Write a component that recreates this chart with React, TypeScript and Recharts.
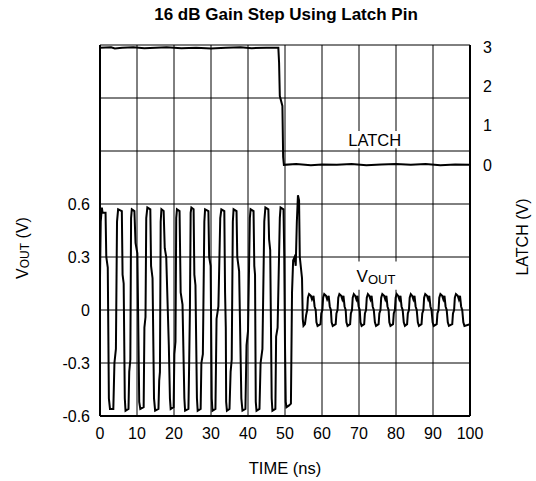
import React from "react";
import {
  LineChart,
  Line,
  XAxis,
  YAxis,
  CartesianGrid,
  ReferenceArea,
} from "recharts";

// [time ns, volts]
const voutBeforeStep: [number, number][] = [
  [0, 0.18], [0.2, 0.5], [0.5, 0.58], [0.7, 0.55], [1.5, 0.55],
  [1.7, 0.3], [2.1, 0.24], [2.4, -0.5], [2.7, -0.56], [3.6, -0.56],
  [3.9, -0.3], [4.3, -0.22], [4.6, 0.5], [4.9, 0.57], [5.9, 0.56],
  [6.1, 0.2], [6.4, 0.15], [6.7, -0.5], [6.9, -0.57], [7.7, -0.56],
  [7.9, -0.35], [8.2, -0.28], [8.4, 0.52], [8.6, 0.57], [9.3, 0.56],
  [9.6, 0.38], [10.1, 0.32], [10.6, -0.52], [10.9, -0.56], [11.8, -0.55],
  [12.0, -0.1], [12.3, -0.04], [12.5, 0.52], [12.8, 0.58], [13.6, 0.57],
  [13.8, 0.25], [14.2, 0.18], [14.6, -0.5], [14.9, -0.57], [15.8, -0.56],
  [16.0, -0.4], [16.2, -0.35], [16.4, 0.5], [16.6, 0.57], [17.2, 0.56],
  [17.5, 0.35], [17.9, 0.3], [18.6, -0.2], [18.9, -0.5], [19.1, -0.56], [19.9, -0.55],
  [20.1, -0.25], [20.4, -0.18], [20.6, 0.52], [20.8, 0.57], [21.5, 0.56],
  [21.8, 0.1], [22.3, 0.03], [22.8, -0.5], [23.0, -0.57], [23.9, -0.56],
  [24.1, -0.3], [24.3, 0.0], [24.5, 0.55], [24.7, 0.58], [25.3, 0.57],
  [25.5, 0.2], [25.8, 0.14], [26.2, -0.5], [26.4, -0.57], [27.2, -0.56],
  [27.4, -0.3], [27.8, -0.25], [28.2, 0.5], [28.4, 0.57], [29.3, 0.56],
  [29.5, 0.3], [29.9, 0.25], [30.2, -0.5], [30.4, -0.57], [31.2, -0.56],
  [31.5, -0.05], [32.0, 0.02], [32.5, 0.52], [32.8, 0.57], [33.6, 0.56],
  [33.8, 0.1], [34.0, -0.1], [34.1, -0.52], [34.3, -0.57], [35.0, -0.56],
  [35.3, -0.35], [35.6, -0.28], [35.9, 0.5], [36.1, 0.57], [36.9, 0.56],
  [37.1, 0.3], [37.6, 0.22], [38.2, -0.5], [38.5, -0.57], [39.3, -0.56],
  [39.6, -0.2], [40.0, -0.12], [40.5, 0.52], [40.7, 0.57], [41.5, 0.56],
  [41.7, 0.25], [41.9, 0.2], [42.1, -0.52], [42.3, -0.57], [43.1, -0.56],
  [43.4, -0.3], [43.9, -0.22], [44.4, 0.5], [44.7, 0.58], [45.5, 0.57],
  [45.7, 0.4], [46.0, 0.34], [46.4, -0.5], [46.6, -0.57], [47.4, -0.56],
  [47.6, -0.15], [48.0, -0.1], [48.6, 0.52], [48.8, 0.58], [49.6, 0.57],
  [49.8, 0.3], [50.0, -0.2], [50.2, -0.52], [50.4, -0.55], [51.1, -0.54],
];

const voutTransient: [number, number][] = [
  [51.6, -0.53], [51.9, 0.1], [52.2, 0.28], [52.6, 0.3], [52.9, 0.25],
  [53.2, 0.5], [53.5, 0.65], [53.8, 0.62], [54.0, 0.3], [54.6, 0.18],
  [54.8, -0.05], [55.0, -0.09], [55.4, -0.08],
];

const voutAfterStep: [number, number][] = [
  [55.7, -0.03], [56.0, 0.0], [56.2, 0.07], [56.5, 0.09], [57.0, 0.08], [57.3, 0.06], [57.7, 0.08], [58.0, 0.02], [58.3, 0.0], [58.5, -0.07], [58.8, -0.09], [59.6, -0.08],
  [59.8, -0.02], [60.1, 0.0], [60.3, 0.07], [60.6, 0.09], [61.1, 0.08], [61.4, 0.06], [61.8, 0.08], [62.1, 0.02], [62.4, 0.0], [62.6, -0.07], [62.9, -0.09], [63.7, -0.08],
  [63.9, -0.02], [64.2, 0.0], [64.4, 0.07], [64.7, 0.09], [65.2, 0.08], [65.5, 0.06], [65.8, 0.08], [66.1, 0.02], [66.4, 0.0], [66.6, -0.07], [66.9, -0.09], [67.6, -0.08],
  [67.8, -0.02], [68.1, 0.0], [68.3, 0.07], [68.6, 0.09], [69.0, 0.08], [69.3, 0.06], [69.6, 0.08], [69.9, 0.02], [70.2, 0.0], [70.4, -0.07], [70.7, -0.09], [71.4, -0.08],
  [71.6, -0.02], [71.9, 0.0], [72.1, 0.07], [72.4, 0.09], [72.8, 0.08], [73.1, 0.06], [73.4, 0.08], [73.7, 0.02], [74.0, 0.0], [74.3, -0.07], [74.6, -0.09], [75.3, -0.08],
  [75.5, -0.02], [75.8, 0.0], [76.0, 0.07], [76.3, 0.09], [76.8, 0.08], [77.1, 0.06], [77.4, 0.08], [77.7, 0.02], [78.0, 0.0], [78.2, -0.07], [78.5, -0.09], [79.2, -0.08],
  [79.4, -0.02], [79.7, 0.0], [79.9, 0.07], [80.2, 0.09], [80.6, 0.08], [80.9, 0.06], [81.2, 0.08], [81.5, 0.02], [81.8, 0.0], [82.1, -0.07], [82.4, -0.09], [83.0, -0.08],
  [83.2, -0.02], [83.5, 0.0], [83.7, 0.07], [84.0, 0.09], [84.4, 0.08], [84.7, 0.06], [85.0, 0.08], [85.3, 0.02], [85.6, 0.0], [85.9, -0.07], [86.2, -0.09], [86.9, -0.08],
  [87.1, -0.02], [87.4, 0.0], [87.6, 0.07], [87.9, 0.09], [88.4, 0.08], [88.7, 0.06], [89.0, 0.08], [89.3, 0.02], [89.6, 0.0], [89.9, -0.07], [90.2, -0.09], [91.0, -0.08],
  [91.2, -0.02], [91.5, 0.0], [91.7, 0.07], [92.0, 0.09], [92.5, 0.08], [92.8, 0.06], [93.1, 0.08], [93.4, 0.02], [93.7, 0.0], [94.0, -0.07], [94.3, -0.09], [95.2, -0.08],
  [95.4, -0.02], [95.7, 0.0], [95.9, 0.07], [96.2, 0.09], [96.7, 0.08], [97.0, 0.06], [97.3, 0.08], [97.6, 0.02], [97.9, 0.0], [98.2, -0.07], [98.5, -0.09], [100, -0.08],
];

const latchTrace: [number, number][] = [
  [0, 2.98], [3, 2.99], [4, 2.96], [6, 2.98], [9, 2.99], [12, 2.97], [15, 2.98],
  [18, 2.99], [22, 2.97], [26, 2.98], [30, 2.96], [34, 2.98], [38, 2.99], [41, 2.97],
  [45, 2.98], [48.2, 2.98], [48.4, 2.6], [48.6, 1.75], [49.3, 1.5], [49.5, 0.2],
  [49.7, 0.0], [53, 0.02], [57, -0.01], [60, 0.01], [64, 0.0], [68, 0.02], [72, -0.01],
  [76, 0.01], [80, 0.02], [84, 0.0], [88, 0.02], [92, -0.01], [96, 0.01], [100, 0.0],
];

const timeTicks = [0, 10, 20, 30, 40, 50, 60, 70, 80, 90, 100];
const voutTicks = [-0.6, -0.3, 0, 0.3, 0.6, 0.9, 1.2, 1.5];
const voutLabelled = [-0.6, -0.3, 0, 0.3, 0.6];
const latchTicks = [0, 1, 2, 3];

const toPoints = (arr: [number, number][]) => arr.map(([t, v]) => ({ t, v }));
const voutData = toPoints([...voutBeforeStep, ...voutTransient, ...voutAfterStep]);
const latchData = toPoints(latchTrace);

const FONT = "'Liberation Sans', Arial, sans-serif";
const tickStyle = { fill: "#000", fontSize: 16, fontFamily: FONT };

const fmtVout = (v: number) => {
  if (!voutLabelled.some((x) => Math.abs(x - v) < 1e-6)) return "";
  if (Math.abs(v) < 1e-6) return "0";
  return v.toFixed(1);
};

export default function App() {
  return (
    <div style={{ position: "absolute", left: 0, top: 0, width: 536, height: 481, background: "#fff" }}>
      <div
        style={{
          position: "absolute",
          left: 0,
          top: 5,
          width: 572,
          textAlign: "center",
          fontFamily: FONT,
          fontWeight: "bold",
          fontSize: 17,
        }}
      >
        16 dB Gain Step Using Latch Pin
      </div>
      <LineChart width={536} height={481} margin={{ top: 45, right: 36, bottom: 35, left: 60 }}>
        <CartesianGrid yAxisId="v" stroke="#000" strokeWidth={1} fill="none" />
        <XAxis
          type="number"
          dataKey="t"
          domain={[0, 100]}
          ticks={timeTicks}
          height={30}
          tickSize={0}
          tickMargin={12}
          tick={tickStyle}
          axisLine={{ stroke: "#000", strokeWidth: 2 }}
          allowDataOverflow
          label={() => (
            <text x={285} y={468} textAnchor="middle" dominantBaseline="central" fontSize={16.5} fontFamily={FONT} fill="#000">
              TIME (ns)
            </text>
          )}
        />
        <YAxis
          yAxisId="v"
          orientation="left"
          type="number"
          domain={[-0.6, 1.5]}
          ticks={voutTicks}
          tickFormatter={fmtVout}
          width={40}
          tickSize={0}
          tickMargin={10}
          tick={tickStyle}
          axisLine={{ stroke: "#000", strokeWidth: 2 }}
          allowDataOverflow
          label={() => (
            <text
              x={22}
              y={248}
              transform="rotate(-90 22 248)"
              textAnchor="middle"
              dominantBaseline="central"
              fontSize={16}
              fontFamily={FONT}
              fill="#000"
            >
              <tspan>V</tspan>
              <tspan fontSize={12} dy={3}>OUT</tspan>
              <tspan dy={-3}> (V)</tspan>
            </text>
          )}
        />
        <YAxis
          yAxisId="latch"
          orientation="right"
          type="number"
          domain={[-6.39, 3.05]}
          ticks={latchTicks}
          width={30}
          tickSize={0}
          tickMargin={13}
          tick={tickStyle}
          axisLine={{ stroke: "#000", strokeWidth: 2 }}
          allowDataOverflow
          label={() => (
            <text
              x={522}
              y={237}
              transform="rotate(-90 522 237)"
              textAnchor="middle"
              dominantBaseline="central"
              fontSize={16}
              fontFamily={FONT}
              fill="#000"
            >
              LATCH (V)
            </text>
          )}
        />
        <ReferenceArea
          yAxisId="latch"
          x1={65.5}
          x2={83}
          y1={0.42}
          y2={0.86}
          fill="#fff"
          fillOpacity={1}
          stroke="none"
          label={{ value: "LATCH", position: "center", fill: "#000", fontSize: 16.5, fontFamily: FONT }}
        />
        <ReferenceArea
          yAxisId="v"
          x1={67.6}
          x2={81.6}
          y1={0.115}
          y2={0.275}
          fill="#fff"
          fillOpacity={1}
          stroke="none"
          label={(props: any) => {
            const vb = props.viewBox || {};
            const cx = (vb.x ?? 0) + (vb.width ?? 0) / 2;
            const cy = (vb.y ?? 0) + (vb.height ?? 0) / 2;
            return (
              <text x={cx} y={cy} textAnchor="middle" dominantBaseline="central" fontSize={17} fontFamily={FONT} fill="#000">
                <tspan>V</tspan>
                <tspan fontSize={13} dy={3}>OUT</tspan>
              </text>
            );
          }}
        />
        <Line
          yAxisId="latch"
          data={latchData}
          dataKey="v"
          type="linear"
          stroke="#000"
          strokeWidth={2}
          dot={false}
          isAnimationActive={false}
        />
        <Line
          yAxisId="v"
          data={voutData}
          dataKey="v"
          type="linear"
          stroke="#000"
          strokeWidth={2}
          dot={false}
          isAnimationActive={false}
        />
      </LineChart>
    </div>
  );
}
